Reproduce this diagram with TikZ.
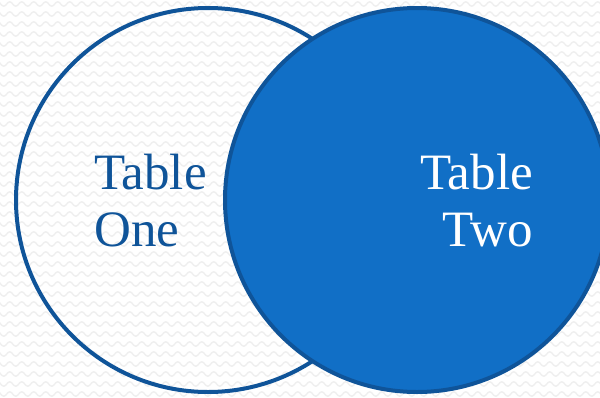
\documentclass[tikz,border=0pt]{standalone}
\usepackage{fontspec}
\setmainfont{Liberation Serif}
\usetikzlibrary{decorations.pathmorphing}
\definecolor{ringblue}{HTML}{0F5499}
\definecolor{fillblue}{HTML}{116FC6}
\definecolor{wavegray}{HTML}{EFEFEF}
\tikzset{
  wave/.style={draw=wavegray, line width=1.4pt, decorate,
    decoration={snake, segment length=12pt, amplitude=2.2pt}},
  ring/.style={draw=ringblue, line width=4pt},
  label/.style={font=\fontsize{51}{60}\selectfont, inner sep=0pt},
}
\begin{document}
\begin{tikzpicture}[x=1pt, y=-1pt]
  \fill[white] (0,0) rectangle (600,397);
  \useasboundingbox (0,0) rectangle (600,397);
  \foreach \r in {0,...,40} {
    \path[wave] (-6,{\r*10+4}) -- (612,{\r*10+4});
  }
  \node[ring, circle, minimum size=384pt, inner sep=0pt] (one) at (208,200) {};
  \node[ring, circle, fill=fillblue, minimum size=384pt, inner sep=0pt] (two) at (417,200) {};
  \node[label, text=ringblue, anchor=base west] (oneA) at (94,189) {Table};
  \node[label, text=ringblue, anchor=base west] (oneB) at (94,246) {One};
  \node[label, text=white, anchor=base east] (twoA) at (533,189) {Table};
  \node[label, text=white, anchor=base east] (twoB) at (533,246) {Two};
\end{tikzpicture}
\end{document}
